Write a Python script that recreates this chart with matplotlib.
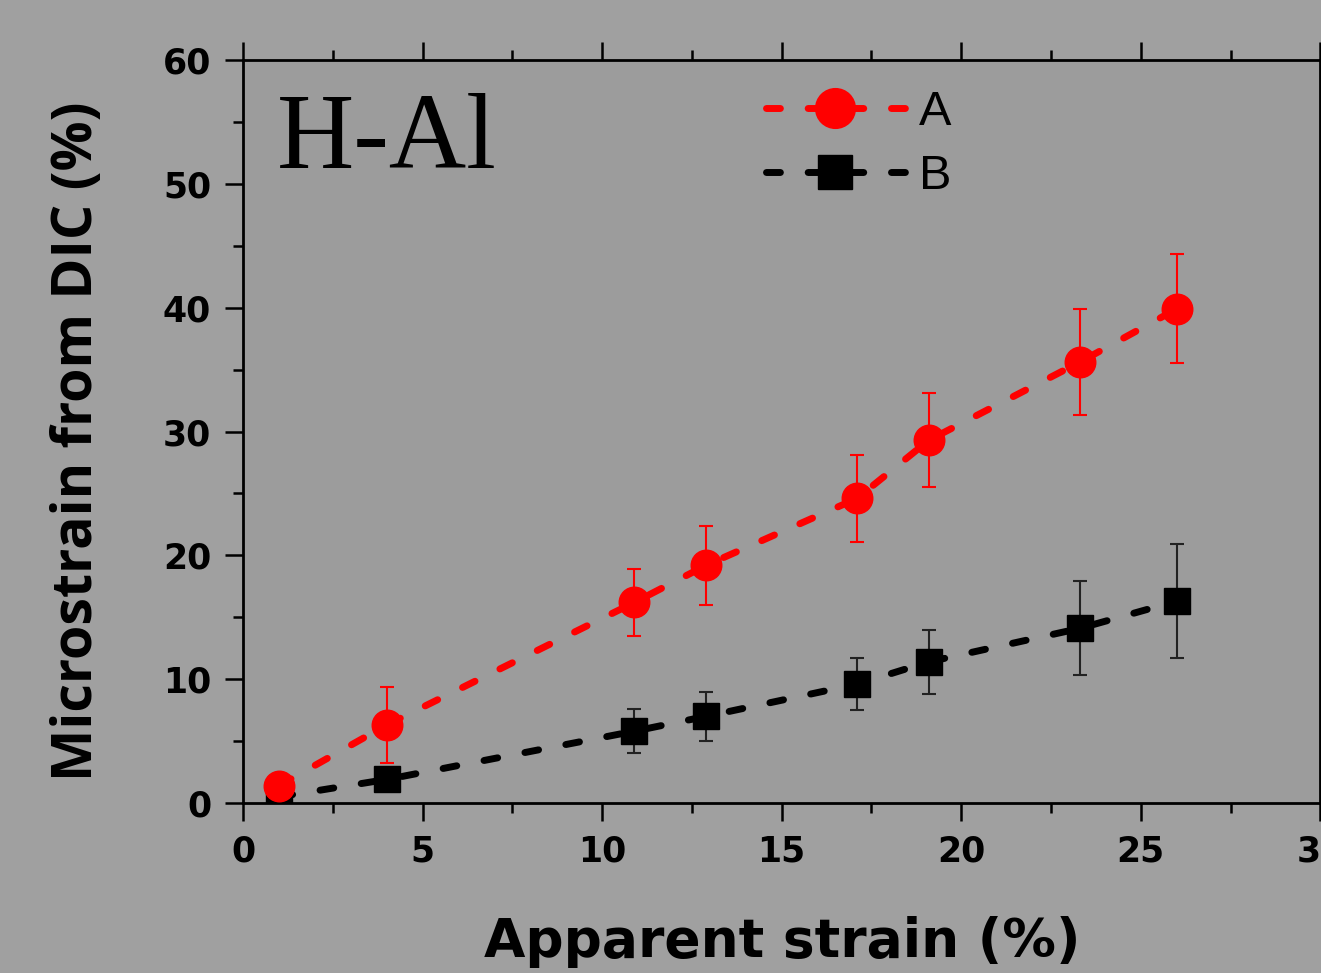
import matplotlib
matplotlib.use("Agg")
import matplotlib.pyplot as plt
from matplotlib.ticker import MultipleLocator

# data
strain = [1.0, 4.0, 10.9, 12.9, 17.1, 19.1, 23.3, 26.0]
micro_a = [1.4, 6.3, 16.2, 19.2, 24.6, 29.3, 35.6, 39.9]
err_a = [0.3, 3.1, 2.7, 3.2, 3.5, 3.8, 4.3, 4.4]
micro_b = [0.5, 1.9, 5.8, 7.0, 9.6, 11.4, 14.1, 16.3]
err_b = [0.3, 0.3, 1.8, 2.0, 2.1, 2.6, 3.8, 4.6]

bg = '#a0a0a0'
fig = plt.figure(figsize=(13.21, 9.73), dpi=100, facecolor=bg)
ax = fig.add_axes([243 / 1321, 1 - 803 / 973, 1 - 243 / 1321 - 0.0005, (803 - 60) / 973])
ax.set_facecolor('#9c9c9c')

ax.errorbar(strain, micro_a, yerr=err_a, fmt='none', ecolor='red', elinewidth=1.5,
            capsize=5, capthick=1.5, zorder=2)
ax.errorbar(strain, micro_b, yerr=err_b, fmt='none', ecolor='#222222', elinewidth=1.5,
            capsize=5, capthick=1.5, zorder=2)
ax.plot(strain, micro_b, color='black', lw=5, dashes=(2, 4), dash_capstyle='round',
        marker='s', ms=19, mec='black', mfc='black', label='B', zorder=3)
ax.plot(strain, micro_a, color='red', lw=5, dashes=(2, 4), dash_capstyle='round',
        marker='o', ms=22, mec='red', mfc='red', label='A', zorder=4)

ax.set_xlim(0, 30)
ax.set_ylim(0, 60)
ax.xaxis.set_major_locator(MultipleLocator(5))
ax.xaxis.set_minor_locator(MultipleLocator(2.5))
ax.yaxis.set_major_locator(MultipleLocator(10))
ax.yaxis.set_minor_locator(MultipleLocator(5))
ax.tick_params(which='both', direction='out', width=1.8, top=True, right=False,
               labeltop=False)
ax.tick_params(which='major', length=13, pad=10, labelsize=25)
ax.tick_params(which='minor', length=7)
for lab in ax.get_xticklabels() + ax.get_yticklabels():
    lab.set_fontweight('bold')
    lab.set_family('DejaVu Sans')
for s in ax.spines.values():
    s.set_linewidth(2)

fig.text(78 / 1321, 1 - 441 / 973, 'Microstrain from DIC (%)', rotation=90,
         ha='center', va='center', fontsize=40, fontweight='bold', family='Open Sans')
fig.text(782 / 1321, 1 - 942 / 973, 'Apparent strain (%)', ha='center', va='center',
         fontsize=38.5, fontweight='bold', family='DejaVu Sans')

ax.text(277 / 1321, 1 - 142 / 973, 'H-Al', transform=fig.transFigure, ha='left',
        va='center', fontsize=77, family='Liberation Serif')

h, l = ax.get_legend_handles_labels()
ax.legend(h[::-1], l[::-1], loc='upper left', bbox_to_anchor=(766 / 1321, 1 - 90 / 973),
          bbox_transform=fig.transFigure, frameon=False, borderpad=0, borderaxespad=0,
          handlelength=2.85, handletextpad=0.3, labelspacing=0.4, markerscale=1.3,
          prop={'family': 'Liberation Sans', 'size': 35})

fig.savefig('out.png', dpi=100, facecolor=bg)
